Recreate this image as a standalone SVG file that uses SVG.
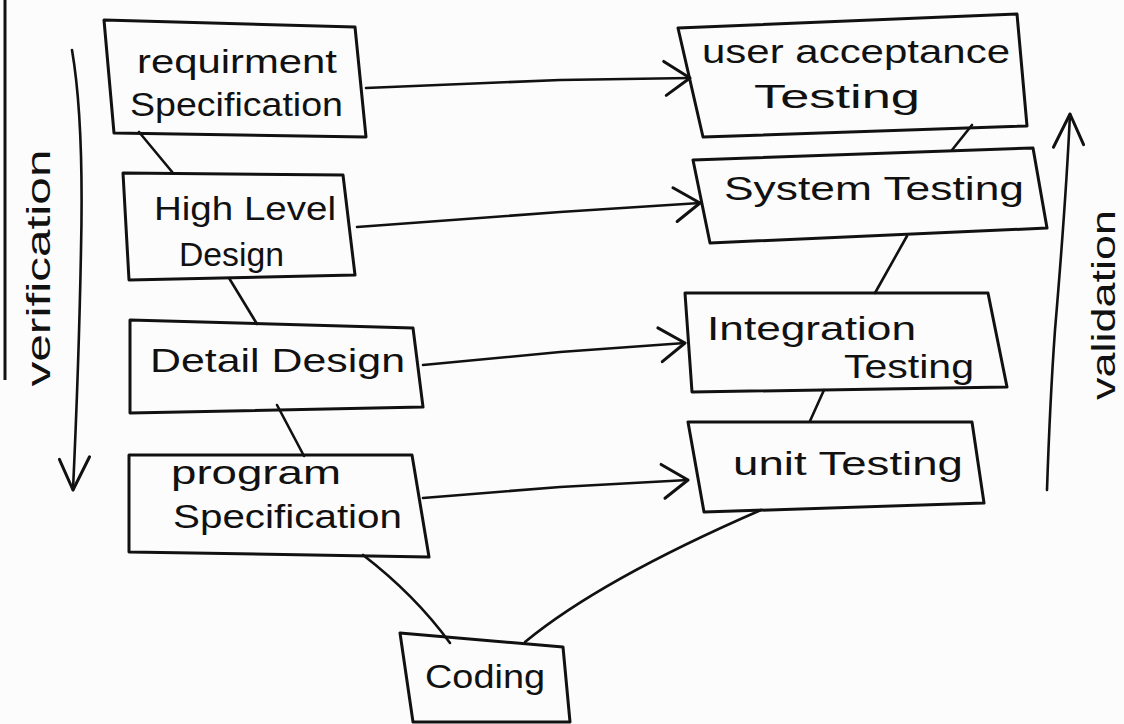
<svg xmlns="http://www.w3.org/2000/svg" width="1124" height="724" viewBox="0 0 1124 724">
  <defs>
    <marker id="vhead" viewBox="-30 -20 34 40" markerWidth="34" markerHeight="40" refX="0" refY="0" orient="auto" markerUnits="userSpaceOnUse">
      <path d="M-26,-17 L0,0 L-24,17" fill="none" stroke="#111" stroke-width="3" stroke-linecap="round" stroke-linejoin="round"/>
    </marker>
    <marker id="bighead" viewBox="-40 -20 44 40" markerWidth="44" markerHeight="40" refX="0" refY="0" orient="auto" markerUnits="userSpaceOnUse">
      <path d="M-34,-15 L0,0 L-30,15" fill="none" stroke="#111" stroke-width="3" stroke-linecap="round" stroke-linejoin="round"/>
    </marker>
  </defs>
  <style>
    .box { fill: none; stroke: #111; stroke-width: 3; stroke-linejoin: round; }
    .ln { fill: none; stroke: #111; stroke-width: 2.6; stroke-linecap: round; }
    .t { font-family: "Liberation Sans", Arial, sans-serif; font-size: 34px; fill: #111; }
  </style>
  <rect x="0" y="0" width="1124" height="724" fill="#fdfcfc"/>

  <!-- page edge line -->
  <line x1="5" y1="0" x2="5" y2="380" stroke="#111" stroke-width="3"/>

  <g id="verification">
    <path class="ln" d="M72,50 Q84,120 81,250 Q79,360 73,490" marker-end="url(#bighead)"/>
    <text class="t" transform="translate(50,268) rotate(-90)" text-anchor="middle" textLength="237" lengthAdjust="spacingAndGlyphs">verification</text>
  </g>

  <g id="validation">
    <path class="ln" d="M1047,490 Q1050,400 1055,330 Q1066,200 1070,114" marker-end="url(#bighead)"/>
    <text class="t" transform="translate(1115,305) rotate(-90)" text-anchor="middle" textLength="190" lengthAdjust="spacingAndGlyphs">validation</text>
  </g>

  <g id="connectors">
    <line class="ln" x1="139" y1="132" x2="173" y2="173"/>
    <line class="ln" x1="229" y1="278" x2="257" y2="324"/>
    <line class="ln" x1="277" y1="405" x2="304" y2="456"/>
    <path class="ln" d="M363,555 Q415,595 450,643"/>
    <path class="ln" d="M525,642 Q600,580 761,510"/>
    <line class="ln" x1="810" y1="421" x2="824" y2="390"/>
    <line class="ln" x1="875" y1="293" x2="907" y2="236"/>
    <line class="ln" x1="952" y1="150" x2="972" y2="125"/>
    <path class="ln" d="M366,88 L560,80 L690,78" marker-end="url(#vhead)"/>
    <path class="ln" d="M357,227 L560,212 L700,203" marker-end="url(#vhead)"/>
    <path class="ln" d="M423,365 L560,352 L685,343" marker-end="url(#vhead)"/>
    <path class="ln" d="M423,498 L560,487 L688,480" marker-end="url(#vhead)"/>
  </g>

  <g id="req">
    <polygon class="box" points="104,20 355,27 366,137 114,133"/>
    <text class="t" x="137" y="73" textLength="200" lengthAdjust="spacingAndGlyphs">requirment</text>
    <text class="t" x="130" y="116" textLength="213" lengthAdjust="spacingAndGlyphs">Specification</text>
  </g>

  <g id="hld">
    <polygon class="box" points="123,173 343,175 355,275 129,280"/>
    <text class="t" x="154" y="220" textLength="182" lengthAdjust="spacingAndGlyphs">High Level</text>
    <text class="t" x="179" y="266" textLength="105" lengthAdjust="spacingAndGlyphs">Design</text>
  </g>

  <g id="detail">
    <polygon class="box" points="130,320 413,328 423,407 130,413"/>
    <text class="t" x="150" y="372" textLength="255" lengthAdjust="spacingAndGlyphs">Detail Design</text>
  </g>

  <g id="program">
    <polygon class="box" points="129,455 412,455 429,557 129,552"/>
    <text class="t" x="171" y="484" textLength="170" lengthAdjust="spacingAndGlyphs">program</text>
    <text class="t" x="173" y="528" textLength="229" lengthAdjust="spacingAndGlyphs">Specification</text>
  </g>

  <g id="coding">
    <polygon class="box" points="400,633 563,647 570,722 413,722"/>
    <text class="t" x="425" y="688" textLength="120" lengthAdjust="spacingAndGlyphs">Coding</text>
  </g>

  <g id="uat">
    <polygon class="box" points="678,28 1017,14 1027,126 703,137"/>
    <text class="t" x="702" y="63" textLength="308" lengthAdjust="spacingAndGlyphs">user acceptance</text>
    <text class="t" x="754" y="108" textLength="166" lengthAdjust="spacingAndGlyphs">Testing</text>
  </g>

  <g id="system">
    <polygon class="box" points="693,160 1033,148 1047,228 710,243"/>
    <text class="t" x="724" y="200" textLength="300" lengthAdjust="spacingAndGlyphs">System Testing</text>
  </g>

  <g id="integration">
    <polygon class="box" points="685,293 988,293 1007,387 692,392"/>
    <text class="t" x="707" y="340" textLength="209" lengthAdjust="spacingAndGlyphs">Integration</text>
    <text class="t" x="844" y="378" textLength="130" lengthAdjust="spacingAndGlyphs">Testing</text>
  </g>

  <g id="unit">
    <polygon class="box" points="688,422 972,422 984,503 704,512"/>
    <text class="t" x="733" y="475" textLength="230" lengthAdjust="spacingAndGlyphs">unit Testing</text>
  </g>
</svg>
